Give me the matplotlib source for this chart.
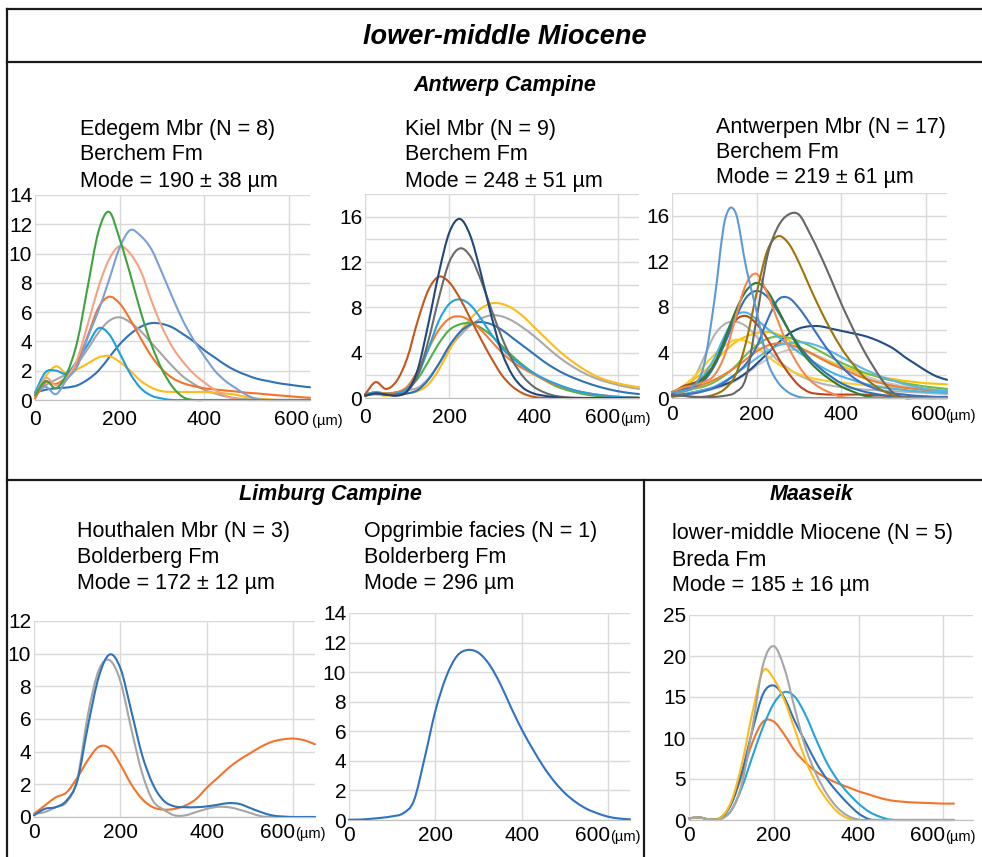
import matplotlib
matplotlib.use("Agg")
import matplotlib.pyplot as plt
from matplotlib.lines import Line2D
from matplotlib.path import Path
from matplotlib.patches import PathPatch
from matplotlib.ticker import MultipleLocator

plt.rcParams['font.family'] = ['Liberation Sans', 'DejaVu Sans']

# grain size sampling (µm)
grain_um = [0, 25, 50, 75, 100, 125, 150, 175, 200, 225, 250, 275, 300, 325,
            350, 375, 400, 425, 450, 475, 500, 525, 550, 575, 600, 625, 650]

# --- Edegem Mbr (N = 8)
edegem_green = [0.3, 1.3, 0.8, 1.8, 4.0, 7.8, 11.5, 12.85, 11.0, 8.6, 6.0, 3.8, 2.1, 0.9, 0.2, 0, 0, 0, 0, 0, 0, 0, 0, 0, 0, 0, 0]
edegem_steel = [0.5, 0.9, 0.4, 1.4, 2.3, 4.3, 6.1, 8.2, 10.4, 11.6, 11.2, 10.3, 8.7, 7.0, 5.4, 4.1, 3.0, 2.0, 1.3, 0.8, 0.35, 0.05, 0, 0, 0, 0, 0]
edegem_salmon = [0.3, 1.5, 1.0, 1.5, 2.8, 5.2, 7.7, 9.6, 10.5, 10.0, 8.8, 6.8, 5.0, 3.6, 2.6, 1.8, 1.2, 0.7, 0.3, 0.05, 0, 0, 0, 0, 0, 0, 0]
edegem_orange = [0.1, 1.2, 1.1, 1.6, 2.6, 4.4, 6.3, 7.05, 6.6, 5.5, 4.2, 3.0, 2.1, 1.5, 1.15, 0.95, 0.8, 0.72, 0.65, 0.58, 0.5, 0.45, 0.38, 0.32, 0.26, 0.2, 0.15]
edegem_gray = [0.3, 1.0, 1.4, 1.8, 2.5, 3.5, 4.6, 5.4, 5.65, 5.3, 4.7, 3.9, 3.1, 2.3, 1.6, 1.1, 0.7, 0.45, 0.25, 0.12, 0.05, 0.02, 0, 0, 0, 0, 0]
edegem_blue = [0.5, 0.7, 0.8, 0.85, 1.0, 1.4, 2.0, 2.9, 3.8, 4.5, 5.0, 5.25, 5.2, 4.95, 4.5, 4.0, 3.4, 2.9, 2.4, 2.0, 1.7, 1.45, 1.3, 1.15, 1.05, 0.95, 0.87]
edegem_lightblue = [0.5, 1.9, 2.0, 1.8, 2.7, 3.8, 4.9, 4.5, 3.2, 1.8, 0.8, 0.3, 0.1, 0, 0, 0, 0, 0, 0, 0, 0, 0, 0, 0, 0, 0, 0]
edegem_yellow = [0.3, 1.6, 2.3, 1.8, 2.1, 2.5, 2.9, 3.0, 2.6, 2.0, 1.3, 0.85, 0.6, 0.55, 0.55, 0.55, 0.55, 0.5, 0.45, 0.35, 0.2, 0.1, 0.05, 0, 0, 0, 0]

# --- Kiel Mbr (N = 9)
kiel_navy = [0.2, 0.4, 0.3, 0.2, 0.6, 2.5, 6.5, 11.0, 14.6, 15.8, 14.3, 11.0, 7.2, 4.0, 2.0, 0.9, 0.4, 0.2, 0.08, 0, 0, 0, 0, 0, 0, 0, 0]
kiel_darkgray = [0.2, 0.4, 0.3, 0.3, 0.6, 2.0, 5.0, 8.8, 12.0, 13.2, 12.5, 10.4, 7.8, 5.3, 3.3, 1.9, 1.0, 0.5, 0.2, 0.08, 0.02, 0, 0, 0, 0, 0, 0]
kiel_brown = [0.3, 1.4, 0.8, 1.5, 3.5, 6.8, 9.5, 10.7, 10.2, 8.8, 7.0, 5.2, 3.5, 2.0, 1.0, 0.4, 0.1, 0, 0, 0, 0, 0, 0, 0, 0, 0, 0]
kiel_lightblue = [0.3, 0.5, 0.3, 0.4, 0.8, 2.0, 4.3, 6.8, 8.3, 8.7, 8.2, 7.0, 5.6, 4.4, 3.5, 2.8, 2.2, 1.7, 1.3, 0.95, 0.65, 0.45, 0.3, 0.18, 0.1, 0.05, 0.02]
kiel_orange = [0.3, 0.5, 0.4, 0.5, 1.0, 2.4, 4.3, 6.0, 7.0, 7.2, 6.8, 6.0, 5.0, 4.0, 3.2, 2.6, 2.1, 1.6, 1.2, 0.9, 0.65, 0.45, 0.3, 0.2, 0.12, 0.07, 0.03]
kiel_green = [0.3, 0.5, 0.4, 0.5, 0.8, 1.7, 3.2, 4.8, 6.0, 6.5, 6.6, 6.2, 5.5, 4.6, 3.7, 2.9, 2.2, 1.6, 1.1, 0.75, 0.5, 0.3, 0.18, 0.1, 0.05, 0.02, 0]
kiel_blue = [0.3, 0.4, 0.3, 0.3, 0.4, 0.7, 1.6, 3.0, 4.6, 5.8, 6.5, 6.7, 6.5, 6.0, 5.3, 4.6, 3.9, 3.2, 2.6, 2.1, 1.7, 1.35, 1.05, 0.8, 0.6, 0.45, 0.35]
kiel_lightgray = [0.3, 0.4, 0.4, 0.5, 0.7, 0.9, 1.7, 3.0, 4.4, 5.5, 6.4, 7.0, 7.3, 7.2, 6.8, 6.2, 5.5, 4.7, 3.9, 3.2, 2.6, 2.1, 1.7, 1.4, 1.15, 0.95, 0.8]
kiel_yellow = [0.2, 0.3, 0.2, 0.3, 0.4, 0.6, 1.2, 2.5, 4.2, 5.8, 7.0, 7.9, 8.35, 8.3, 7.9, 7.2, 6.3, 5.4, 4.5, 3.7, 3.0, 2.4, 1.9, 1.55, 1.3, 1.1, 0.95]

# --- Antwerpen Mbr (N = 17)
antw_steel = [0.5, 0.6, 1.0, 2.8, 8.5, 15.6, 16.3, 11.5, 7.6, 3.3, 1.4, 0.5, 0.1, 0, 0, 0, 0, 0, 0, 0, 0, 0, 0, 0, 0, 0, 0]
antw_darkgray = [0.2, 0.2, 0.1, 0.1, 0.1, 0.2, 0.5, 1.8, 7.0, 12.4, 15.0, 16.1, 16.1, 14.5, 12.6, 10.5, 8.3, 6.3, 4.4, 2.8, 1.4, 0.4, 0, 0, 0, 0, 0]
antw_gold = [0.1, 0.2, 0.1, 0.1, 0.3, 0.8, 2.0, 4.9, 9.2, 12.9, 14.2, 13.6, 11.9, 9.8, 7.8, 6.0, 4.4, 3.1, 2.0, 1.2, 0.6, 0.2, 0.05, 0, 0, 0, 0]
antw_salmon = [0.5, 0.9, 1.1, 1.4, 2.0, 3.8, 7.0, 10.0, 10.9, 9.2, 6.8, 4.5, 2.8, 1.6, 0.9, 0.45, 0.1, 0, 0, 0, 0, 0, 0, 0, 0, 0, 0]
antw_darkgreen = [0.5, 0.9, 1.2, 1.7, 3.0, 5.2, 7.6, 9.4, 10.1, 9.4, 7.8, 6.0, 4.4, 3.2, 2.3, 1.6, 1.0, 0.6, 0.25, 0.05, 0, 0, 0, 0, 0, 0, 0]
antw_blue = [0.5, 0.8, 1.0, 1.5, 2.8, 4.8, 7.0, 8.8, 9.4, 8.9, 7.6, 6.0, 4.6, 3.5, 2.6, 1.9, 1.3, 0.9, 0.6, 0.4, 0.25, 0.15, 0.1, 0.05, 0, 0, 0]
antw_blue2 = [0.2, 0.3, 0.4, 0.6, 0.9, 1.4, 2.1, 3.0, 4.5, 6.8, 8.6, 8.8, 7.9, 6.6, 5.2, 3.9, 2.8, 1.9, 1.3, 0.9, 0.6, 0.4, 0.3, 0.2, 0.15, 0.1, 0.1]
antw_lightblue = [0.5, 0.8, 1.2, 2.0, 3.5, 5.5, 7.2, 7.5, 6.9, 6.1, 5.4, 4.7, 4.0, 3.4, 2.8, 2.3, 1.9, 1.6, 1.3, 1.1, 0.9, 0.8, 0.7, 0.6, 0.55, 0.5, 0.45]
antw_brownred = [0.3, 1.0, 1.3, 1.8, 3.0, 5.0, 6.8, 7.2, 6.5, 5.2, 3.6, 2.2, 1.1, 0.5, 0.35, 0.3, 0.3, 0.3, 0.3, 0.25, 0.2, 0.15, 0.1, 0.05, 0, 0, 0]
antw_lightgray = [0.4, 0.7, 1.6, 3.5, 5.5, 6.5, 6.7, 6.3, 5.4, 4.3, 3.3, 2.6, 2.0, 1.6, 1.3, 1.1, 0.95, 0.85, 0.75, 0.7, 0.65, 0.6, 0.55, 0.5, 0.45, 0.4, 0.35]
antw_navy = [0.2, 0.3, 0.5, 0.7, 0.9, 1.2, 1.6, 2.2, 3.0, 3.9, 4.8, 5.6, 6.1, 6.3, 6.3, 6.1, 5.9, 5.7, 5.5, 5.2, 4.8, 4.3, 3.6, 3.0, 2.4, 1.9, 1.6]
antw_yellow = [0.5, 1.0, 1.6, 2.3, 3.2, 4.1, 4.9, 5.4, 5.7, 5.8, 5.6, 5.1, 4.5, 4.0, 3.5, 3.1, 2.8, 2.5, 2.2, 2.0, 1.8, 1.65, 1.5, 1.4, 1.3, 1.25, 1.2]
antw_green = [0.3, 0.5, 0.8, 1.0, 1.4, 2.0, 2.8, 3.8, 4.6, 5.2, 5.4, 5.3, 5.0, 4.6, 4.1, 3.6, 3.1, 2.7, 2.3, 2.0, 1.7, 1.5, 1.3, 1.15, 1.0, 0.9, 0.8]
antw_orange = [0.3, 0.6, 0.9, 1.2, 1.6, 2.1, 2.7, 3.4, 4.1, 4.6, 4.8, 4.7, 4.4, 4.0, 3.5, 3.0, 2.6, 2.2, 1.8, 1.5, 1.25, 1.05, 0.9, 0.8, 0.7, 0.65, 0.6]
antw_lightblue2 = [0.2, 0.3, 0.5, 0.7, 1.0, 1.5, 2.1, 2.8, 3.5, 4.1, 4.6, 4.8, 4.9, 4.8, 4.5, 4.1, 3.6, 3.1, 2.6, 2.2, 1.8, 1.5, 1.2, 1.0, 0.8, 0.7, 0.6]
antw_yellow2 = [0.5, 1.0, 1.8, 2.8, 3.8, 4.6, 5.1, 5.0, 4.5, 3.7, 3.0, 2.5, 2.1, 1.8, 1.6, 1.45, 1.35, 1.25, 1.15, 1.05, 1.0, 0.95, 0.9, 0.85, 0.8, 0.75, 0.7]
antw_gray2 = [0.2, 0.3, 0.4, 0.6, 0.8, 1.1, 1.5, 2.1, 2.8, 3.4, 3.9, 4.2, 4.2, 4.0, 3.6, 3.2, 2.8, 2.4, 2.0, 1.7, 1.4, 1.2, 1.0, 0.85, 0.7, 0.6, 0.5]

# --- Houthalen Mbr (N = 3)
houth_blue = [0.1, 0.5, 0.6, 1.0, 2.2, 5.6, 8.6, 9.95, 9.1, 6.5, 3.8, 2.0, 1.0, 0.65, 0.6, 0.6, 0.65, 0.75, 0.85, 0.8, 0.55, 0.3, 0.1, 0.03, 0, 0, 0]
houth_gray = [0.2, 0.3, 0.6, 0.9, 2.3, 6.3, 9.0, 9.6, 8.3, 5.4, 2.7, 1.0, 0.45, 0.1, 0.1, 0.3, 0.5, 0.62, 0.6, 0.45, 0.25, 0.05, 0, 0, 0, 0, 0]
houth_orange = [0.2, 0.7, 1.2, 1.5, 2.4, 3.5, 4.3, 4.2, 3.2, 2.0, 1.1, 0.6, 0.45, 0.5, 0.7, 1.1, 1.8, 2.4, 3.0, 3.5, 3.9, 4.3, 4.6, 4.75, 4.8, 4.7, 4.45]

# --- Opgrimbie facies (N = 1)
opgr_blue = [0.02, 0.03, 0.08, 0.15, 0.25, 0.45, 1.3, 4.2, 7.4, 9.7, 11.1, 11.5, 11.3, 10.5, 9.2, 7.6, 6.1, 4.8, 3.6, 2.6, 1.8, 1.2, 0.75, 0.45, 0.22, 0.1, 0.05]

# --- Maaseik, Breda Fm (N = 5), sampled 0-625 µm
maas_gray = [0.2, 0.3, 0.05, 0.1, 1.2, 4.5, 11.4, 19.0, 21.2, 18.5, 13.5, 8.8, 5.6, 3.2, 1.5, 0.5, 0.05, 0, 0, 0, 0, 0, 0, 0, 0, 0]
maas_yellow = [0.2, 0.3, 0.05, 0.3, 2.3, 6.9, 13.2, 18.2, 17.2, 14.6, 11.0, 7.3, 4.5, 2.5, 1.0, 0.2, 0, 0, 0, 0, 0, 0, 0, 0, 0, 0]
maas_blue = [0.2, 0.3, 0.05, 0.3, 2.0, 5.9, 11.0, 15.4, 16.4, 14.9, 12.0, 9.5, 7.0, 5.0, 3.4, 2.0, 0.8, 0.1, 0, 0, 0, 0, 0, 0, 0, 0]
maas_lightblue = [0.2, 0.3, 0.05, 0.2, 1.2, 4.0, 7.8, 11.4, 14.2, 15.6, 15.0, 12.8, 9.8, 7.0, 4.9, 3.3, 2.0, 1.0, 0.4, 0.05, 0, 0, 0, 0, 0, 0]
maas_orange = [0.2, 0.3, 0.05, 0.3, 2.0, 5.5, 9.5, 12.0, 12.0, 10.4, 8.4, 7.0, 5.9, 5.1, 4.5, 4.0, 3.5, 3.1, 2.7, 2.4, 2.25, 2.15, 2.1, 2.05, 2.0, 2.0]

W, H = 982, 857
fig = plt.figure(figsize=(W / 100, H / 100), dpi=100)


def frame_line(x0, y0, x1, y1):
    fig.add_artist(Line2D([x0 / W, x1 / W], [1 - y0 / H, 1 - y1 / H],
                          transform=fig.transFigure, color='#1a1a1a', lw=1.6))


def label(x, y, s, **kw):
    fig.text(x / W, 1 - y / H, s, va='center', **kw)


def smooth_line(ax, xs, ys, color):
    # Excel-style "smoothed line": Bezier segments through the read points
    pts = list(zip(xs, ys))
    n = len(pts)
    verts = [pts[0]]
    codes = [Path.MOVETO]
    for i in range(n - 1):
        p0 = pts[max(i - 1, 0)]
        p1 = pts[i]
        p2 = pts[i + 1]
        p3 = pts[min(i + 2, n - 1)]
        c1 = (p1[0] + (p2[0] - p0[0]) / 6, p1[1] + (p2[1] - p0[1]) / 6)
        c2 = (p2[0] - (p3[0] - p1[0]) / 6, p2[1] - (p3[1] - p1[1]) / 6)
        verts += [c1, c2, p2]
        codes += [Path.CURVE4] * 3
    ax.add_patch(PathPatch(Path(verts, codes), fill=False, edgecolor=color,
                           lw=1.5, clip_on=False, capstyle='round',
                           joinstyle='round'))


def panel(left, right, y0, ytop, xmax, ymax, ymajor, yminor, curves,
          unit, unit_dx, whole_centered, xpad):
    ax = fig.add_axes([left / W, 1 - y0 / H, (right - left) / W, (y0 - ytop) / H])
    for ys, c in curves:
        smooth_line(ax, grain_um[:len(ys)], ys, c)
    ax.set_xlim(0, xmax)
    ax.set_ylim(0, ymax)
    ax.set_xticks([0, 200, 400, 600])
    ax.set_xticklabels(['0', '200', '400', ''])
    ax.yaxis.set_major_locator(MultipleLocator(ymajor))
    ax.yaxis.set_minor_locator(MultipleLocator(yminor))
    ax.grid(True, which='both', color='#d9d9d9', lw=1.0)
    ax.set_axisbelow(True)
    for s in ['top', 'right', 'left']:
        ax.spines[s].set_visible(False)
    ax.spines['bottom'].set_color('#bfbfbf')
    ax.tick_params(which='both', length=0, labelsize=15)
    ax.tick_params(axis='x', pad=xpad)
    ax.tick_params(axis='y', pad=2)
    base = -(xpad + 11)
    kw = dict(xy=(600, 0), xycoords=('data', 'axes fraction'),
              textcoords='offset points', va='baseline')
    if whole_centered:
        ax.annotate('600', xytext=(1.5, base), ha='right', fontsize=15, **kw)
        ax.annotate(unit, xytext=(1.5, base), ha='left', fontsize=10.5, **kw)
    else:
        ax.annotate('600', xytext=(2, base), ha='center', fontsize=15, **kw)
        ax.annotate(unit, xytext=(unit_dx, base), ha='left', fontsize=10.5, **kw)
    return ax


# outer frame and separators
frame_line(6.5, 9, 6.5, H)
frame_line(6.5, 9, W, 9)
frame_line(6.5, 61.5, W, 61.5)
frame_line(6.5, 480, W, 480)
frame_line(644, 480, 644, H)

bi = dict(fontweight='bold', fontstyle='italic', ha='center')
label(505, 37, 'lower-middle Miocene', fontsize=19.5, **bi)
label(505, 86, 'Antwerp Campine', fontsize=15.5, **bi)
label(330, 494, 'Limburg Campine', fontsize=15.5, **bi)
label(812, 494, 'Maaseik', fontsize=15.5, **bi)

blocks = [
    (80, [130, 155, 181], ['Edegem Mbr (N = 8)', 'Berchem Fm', 'Mode = 190 ± 38 µm']),
    (405, [130, 155, 181], ['Kiel Mbr (N = 9)', 'Berchem Fm', 'Mode = 248 ± 51 µm']),
    (716, [128, 153, 178], ['Antwerpen Mbr (N = 17)', 'Berchem Fm', 'Mode = 219 ± 61 µm']),
    (77, [531, 557, 584], ['Houthalen Mbr (N = 3)', 'Bolderberg Fm', 'Mode = 172 ± 12 µm']),
    (364, [531, 557, 584], ['Opgrimbie facies (N = 1)', 'Bolderberg Fm', 'Mode = 296 µm']),
    (672, [534, 560, 586], ['lower-middle Miocene (N = 5)', 'Breda Fm', 'Mode = 185 ± 16 µm']),
]
for x, ys, lines in blocks:
    for y, s in zip(ys, lines):
        label(x, y, s, fontsize=15.5, ha='left')

panel(35, 310, 400, 195, 650, 14, 2, 2, [
    (edegem_blue, '#2e72b8'), (edegem_gray, '#a5a5a5'), (edegem_yellow, '#ffbb1c'),
    (edegem_lightblue, '#1c9ee0'), (edegem_orange, '#f4732a'), (edegem_salmon, '#f5a183'),
    (edegem_steel, '#7b9fd6'), (edegem_green, '#3ea33e')],
    ' (µm)', 14, False, 7)

panel(365, 639, 398, 194, 650, 18, 4, 2, [
    (kiel_lightgray, '#a9a9a9'), (kiel_yellow, '#ffbb1c'), (kiel_blue, '#2e72b8'),
    (kiel_green, '#4fb04a'), (kiel_orange, '#f47a35'), (kiel_lightblue, '#24a3dd'),
    (kiel_brown, '#c2561c'), (kiel_darkgray, '#6b6b6b'), (kiel_navy, '#22477a')],
    '(µm)', 0, True, 7)

panel(672, 947, 398, 193, 650, 18, 4, 2, [
    (antw_gray2, '#c7c7c7'), (antw_lightgray, '#b3b3b3'), (antw_navy, '#1f4e82'),
    (antw_yellow, '#ffc000'), (antw_yellow2, '#ffca2c'), (antw_green, '#6bbf4a'),
    (antw_orange, '#ef7d33'), (antw_lightblue2, '#5fb6e6'), (antw_lightblue, '#4cb3e6'),
    (antw_brownred, '#b9471b'), (antw_blue2, '#3a6fc4'), (antw_blue, '#2e72b8'),
    (antw_darkgreen, '#2f7d32'), (antw_salmon, '#f7874f'), (antw_gold, '#9c7408'),
    (antw_darkgray, '#666666'), (antw_steel, '#5b9bd5')],
    '(µm)', 14, False, 5)

panel(34, 315, 817, 621, 650, 12, 2, 2, [
    (houth_orange, '#f4732a'), (houth_gray, '#a5a5a5'), (houth_blue, '#2e72b8')],
    '(µm)', 0, True, 4)

panel(349, 630, 820, 613, 650, 14, 2, 2, [(opgr_blue, '#2e72c4')],
      '(µm)', 0, True, 4)

panel(689, 973, 820, 615, 670, 25, 5, 5, [
    (maas_orange, '#f4732a'), (maas_lightblue, '#24a3dd'), (maas_blue, '#2e72b8'),
    (maas_yellow, '#ffbb1c'), (maas_gray, '#a5a5a5')],
    '(µm)', 0, True, 4)

fig.savefig('out.png', dpi=100)
